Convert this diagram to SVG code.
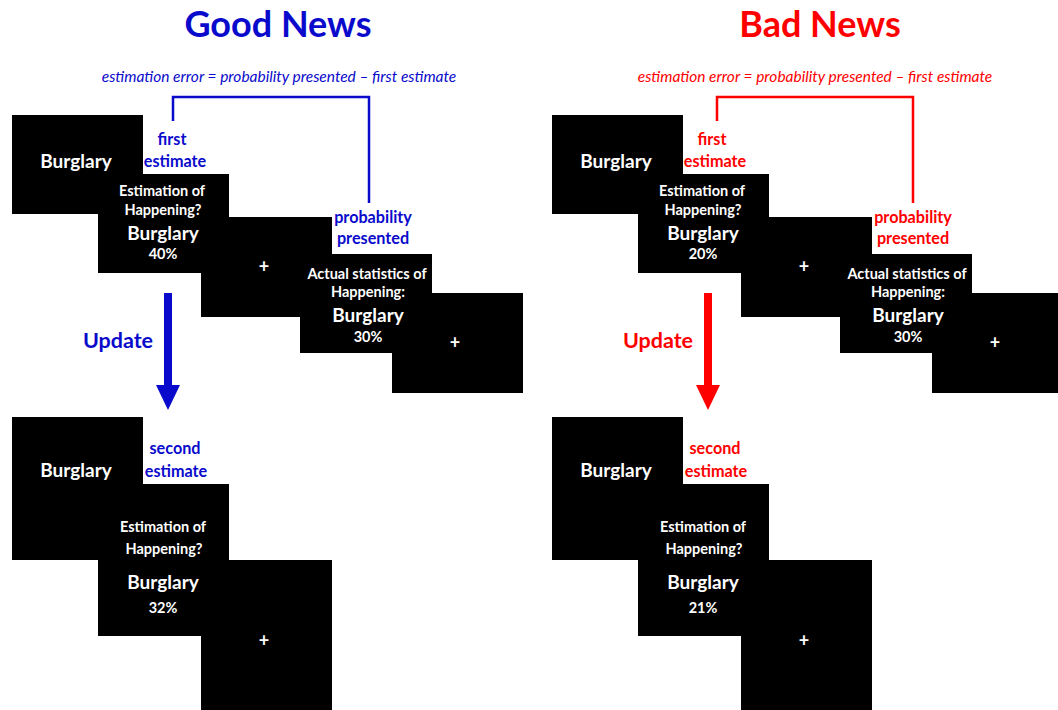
<svg xmlns="http://www.w3.org/2000/svg" width="1058" height="710" viewBox="0 0 1058 710">
<style>
text{font-family:Lato,"Open Sans","Liberation Sans",sans-serif;font-weight:bold;text-anchor:middle}
.w{fill:#fff}
.s{font-size:14.5px}
.b{font-size:19px}
.p{font-size:18px}
.blue{fill:#0a0acc}
.red{fill:#ff0000}
.lab{font-size:16.2px}
.ttl{font-size:36px}
.f{font-size:15.5px;font-style:italic;font-weight:normal}
.node rect{fill:none}
.ol rect{fill:#000;stroke:#8a8a8a;stroke-width:2}
.fl rect{fill:#000}
.brB{fill:none;stroke:#0a0acc;stroke-width:2.5}
.brR{fill:none;stroke:#ff0000;stroke-width:2.5}
</style>
<defs>
<g id="boxset">
<rect x="12" y="115" width="131" height="99"/>
<rect x="98" y="174" width="131" height="99"/>
<rect x="201" y="217" width="131" height="100"/>
<rect x="300" y="254" width="132" height="99"/>
<rect x="392" y="293" width="131" height="100"/>
<rect x="12" y="417" width="131" height="143"/>
<rect x="98" y="484" width="131" height="152"/>
<rect x="201" y="560" width="131" height="152"/>
<rect x="552" y="115" width="131" height="99"/>
<rect x="638" y="174" width="131" height="99"/>
<rect x="741" y="217" width="131" height="100"/>
<rect x="840" y="254" width="132" height="99"/>
<rect x="932" y="293" width="131" height="100"/>
<rect x="552" y="417" width="131" height="143"/>
<rect x="638" y="484" width="131" height="152"/>
<rect x="741" y="560" width="131" height="152"/>
</g>
</defs>
<rect width="1058" height="710" fill="#fff"/>

<!-- titles and formulas -->
<text class="ttl blue" x="278" y="37">Good News</text>
<text class="f blue" x="279" y="82">estimation error = probability presented – first estimate</text>
<text class="ttl red" x="820" y="37">Bad News</text>
<text class="f red" x="815" y="82">estimation error = probability presented – first estimate</text>

<!-- box backgrounds: outline pass, then fill pass -->
<g class="ol"><use href="#boxset"/></g>
<g class="fl"><use href="#boxset"/></g>

<!-- Good News top sequence -->
<g id="g-cue1" class="node"><rect x="12" y="115" width="131" height="99"/><text class="w b" x="76" y="168">Burglary</text></g>
<g id="g-est1" class="node"><rect x="98" y="174" width="131" height="99"/>
<text class="w s" x="162" y="196">Estimation of</text><text class="w s" x="163" y="215">Happening?</text>
<text class="w b" x="163" y="240">Burglary</text><text class="w s" x="163" y="259">40%</text></g>
<g id="g-fix1" class="node"><rect x="201" y="217" width="131" height="100"/><text class="w p" x="264" y="273">+</text></g>
<g id="g-actual" class="node"><rect x="300" y="254" width="132" height="99"/>
<text class="w s" x="367" y="279">Actual statistics of</text><text class="w s" x="368" y="297">Happening:</text>
<text class="w b" x="368" y="322">Burglary</text><text class="w s" x="368" y="342">30%</text></g>
<g id="g-fix2" class="node"><rect x="392" y="293" width="131" height="100"/><text class="w p" x="455" y="349">+</text></g>

<!-- Good News bottom sequence -->
<g id="g-cue2" class="node"><rect x="12" y="417" width="131" height="143"/><text class="w b" x="76" y="477">Burglary</text></g>
<g id="g-est2" class="node"><rect x="98" y="484" width="131" height="152"/>
<text class="w s" x="163" y="532">Estimation of</text><text class="w s" x="164" y="554">Happening?</text>
<text class="w b" x="163" y="589">Burglary</text><text class="w s" x="163" y="613">32%</text></g>
<g id="g-fix3" class="node"><rect x="201" y="560" width="131" height="150"/><text class="w p" x="264" y="647">+</text></g>

<!-- Bad News top sequence -->
<g id="b-cue1" class="node"><rect x="552" y="115" width="131" height="99"/><text class="w b" x="616" y="168">Burglary</text></g>
<g id="b-est1" class="node"><rect x="638" y="174" width="131" height="99"/>
<text class="w s" x="702" y="196">Estimation of</text><text class="w s" x="703" y="215">Happening?</text>
<text class="w b" x="703" y="240">Burglary</text><text class="w s" x="703" y="259">20%</text></g>
<g id="b-fix1" class="node"><rect x="741" y="217" width="131" height="100"/><text class="w p" x="804" y="273">+</text></g>
<g id="b-actual" class="node"><rect x="840" y="254" width="132" height="99"/>
<text class="w s" x="907" y="279">Actual statistics of</text><text class="w s" x="908" y="297">Happening:</text>
<text class="w b" x="908" y="322">Burglary</text><text class="w s" x="908" y="342">30%</text></g>
<g id="b-fix2" class="node"><rect x="932" y="293" width="126" height="100"/><text class="w p" x="995" y="349">+</text></g>

<!-- Bad News bottom sequence -->
<g id="b-cue2" class="node"><rect x="552" y="417" width="131" height="143"/><text class="w b" x="616" y="477">Burglary</text></g>
<g id="b-est2" class="node"><rect x="638" y="484" width="131" height="152"/>
<text class="w s" x="703" y="532">Estimation of</text><text class="w s" x="704" y="554">Happening?</text>
<text class="w b" x="703" y="589">Burglary</text><text class="w s" x="703" y="613">21%</text></g>
<g id="b-fix3" class="node"><rect x="741" y="560" width="131" height="150"/><text class="w p" x="804" y="647">+</text></g>

<!-- labels -->
<g id="labels">
<text class="lab blue" x="172" y="145">first</text>
<text class="lab blue" x="175" y="167">estimate</text>
<text class="lab blue" x="373" y="223">probability</text>
<text class="lab blue" x="373" y="244">presented</text>
<text class="lab blue" x="175" y="454">second</text>
<text class="lab blue" x="176" y="477">estimate</text>
<text class="blue" style="font-size:21.5px" x="118" y="348">Update</text>
<text class="lab red" x="712" y="145">first</text>
<text class="lab red" x="715" y="167">estimate</text>
<text class="lab red" x="913" y="223">probability</text>
<text class="lab red" x="913" y="244">presented</text>
<text class="lab red" x="715" y="454">second</text>
<text class="lab red" x="716" y="477">estimate</text>
<text class="red" style="font-size:21.5px" x="658" y="348">Update</text>
</g>

<!-- connectors -->
<g id="connectors">
<path class="brB" d="M173,121 V97 H369 V203"/>
<path class="brR" d="M717,121 V97 H913 V203"/>
<rect x="164" y="293" width="8" height="93" fill="#0a0acc"/>
<polygon points="156,385 180,385 168,410" fill="#0a0acc"/>
<rect x="704" y="293" width="8" height="93" fill="#ff0000"/>
<polygon points="696,385 720,385 708,410" fill="#ff0000"/>
</g>
</svg>
